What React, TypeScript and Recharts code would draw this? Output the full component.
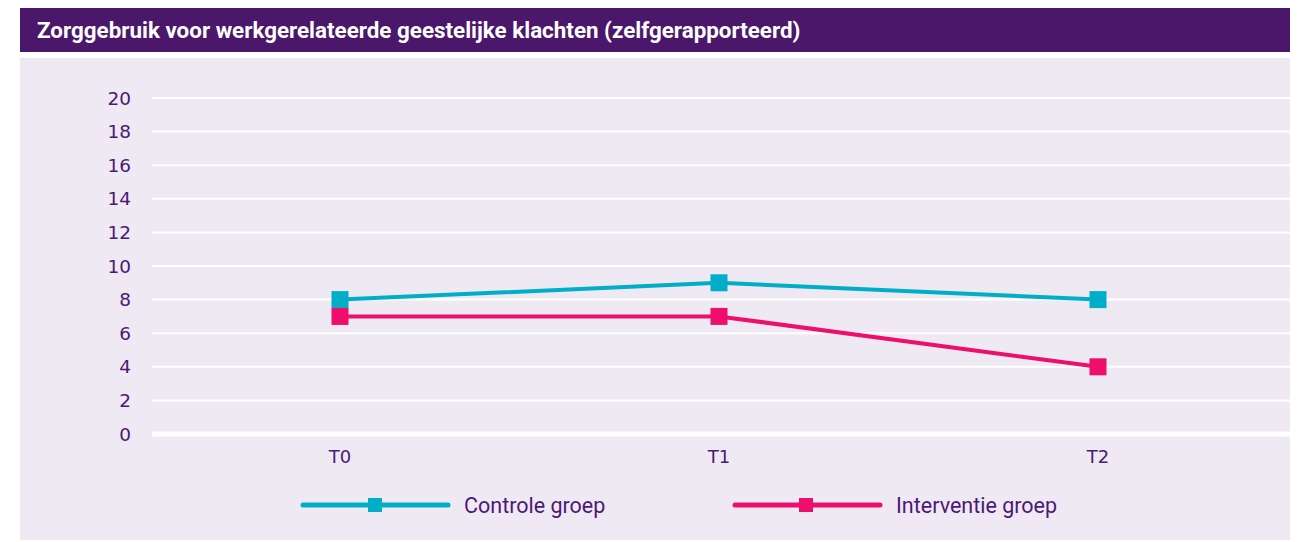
import React from "react";
import {
  LineChart,
  Line,
  XAxis,
  YAxis,
  CartesianGrid,
  ReferenceLine,
} from "recharts";

// Measurement moments and values (self-reported care use)
const moments = ["T0", "T1", "T2"];
const controleGroep = [8, 9, 8];
const interventieGroep = [7, 7, 4];
const yTicks = [0, 2, 4, 6, 8, 10, 12, 14, 16, 18, 20];

const seriesInfo = [
  { key: "controle", name: "Controle groep", color: "#00aec7" },
  { key: "interventie", name: "Interventie groep", color: "#ee0e6b" },
];

const data = moments.map((m, i) => ({
  moment: m,
  controle: controleGroep[i],
  interventie: interventieGroep[i],
}));

const PURPLE = "#4b176b";
const TEXT = "#4b1a74";
const PANEL = "#efe9f4";

// Square marker instead of the default circle
const squareDot = (color: string) => (props: any) => {
  const { cx, cy, index } = props;
  if (cx == null || cy == null) return null;
  return (
    <rect key={index} x={cx - 8.5} y={cy - 8.5} width={17} height={17} fill={color} />
  );
};

// legend drawn by hand, positions in page px (panel starts at x=20)
const legendPos = [
  { lineFrom: 303, lineTo: 448, marker: 375, text: 464 },
  { lineFrom: 735, lineTo: 880, marker: 806, text: 896 },
];

const ChartLegend = () => (
  <svg width={1270} height={40} style={{ display: "block", marginTop: 17 }}>
    {seriesInfo.map((s, i) => {
      const p = legendPos[i];
      return (
        <g key={s.key}>
          <line
            x1={p.lineFrom - 20}
            x2={p.lineTo - 20}
            y1={20}
            y2={20}
            stroke={s.color}
            strokeWidth={5}
            strokeLinecap="round"
          />
          <rect x={p.marker - 27} y={13} width={14} height={14} fill={s.color} />
          <text
            x={p.text - 20}
            y={20}
            dy="0.35em"
            fill={TEXT}
            fontSize={21.5}
            fontFamily="Roboto, sans-serif"
          >
            {s.name}
          </text>
        </g>
      );
    })}
  </svg>
);

export default function App() {
  return (
    <div style={{ marginLeft: 12, width: 1270, fontFamily: "Roboto, sans-serif" }}>
      <div
        style={{
          background: PURPLE,
          color: "#fff",
          height: 44,
          lineHeight: "44px",
          paddingLeft: 17,
          fontWeight: 700,
          fontSize: 22.4,
        }}
      >
        Zorggebruik voor werkgerelateerde geestelijke klachten (zelfgerapporteerd)
      </div>
      <div style={{ height: 6 }} />
      <div style={{ background: PANEL, width: 1270, height: 482, overflow: "hidden" }}>
        <LineChart
          width={1270}
          height={410}
          data={data}
          margin={{ top: 40, right: 0, left: 0, bottom: 0 }}
        >
          <CartesianGrid vertical={false} stroke="#ffffff" strokeWidth={2} />
          <XAxis
            dataKey="moment"
            axisLine={false}
            tickLine={false}
            tickSize={0}
            tickMargin={16}
            height={34}
            padding={{ left: 188, right: 192 }}
            tick={{ fill: TEXT, fontSize: 18, fontFamily: "DejaVu Sans, sans-serif" }}
          />
          <YAxis
            domain={[0, 20]}
            ticks={yTicks}
            interval={0}
            axisLine={false}
            tickLine={false}
            tickSize={0}
            tickMargin={21}
            width={132}
            tick={{ fill: TEXT, fontSize: 18.5, fontFamily: "DejaVu Sans, sans-serif" }}
          />
          <ReferenceLine y={0} stroke="#ffffff" strokeWidth={5} />
          {seriesInfo.map((s) => (
            <Line
              key={s.key}
              dataKey={s.key}
              name={s.name}
              type="linear"
              stroke={s.color}
              strokeWidth={4}
              dot={squareDot(s.color)}
              activeDot={false}
              isAnimationActive={false}
            />
          ))}
        </LineChart>
        <ChartLegend />
      </div>
    </div>
  );
}
